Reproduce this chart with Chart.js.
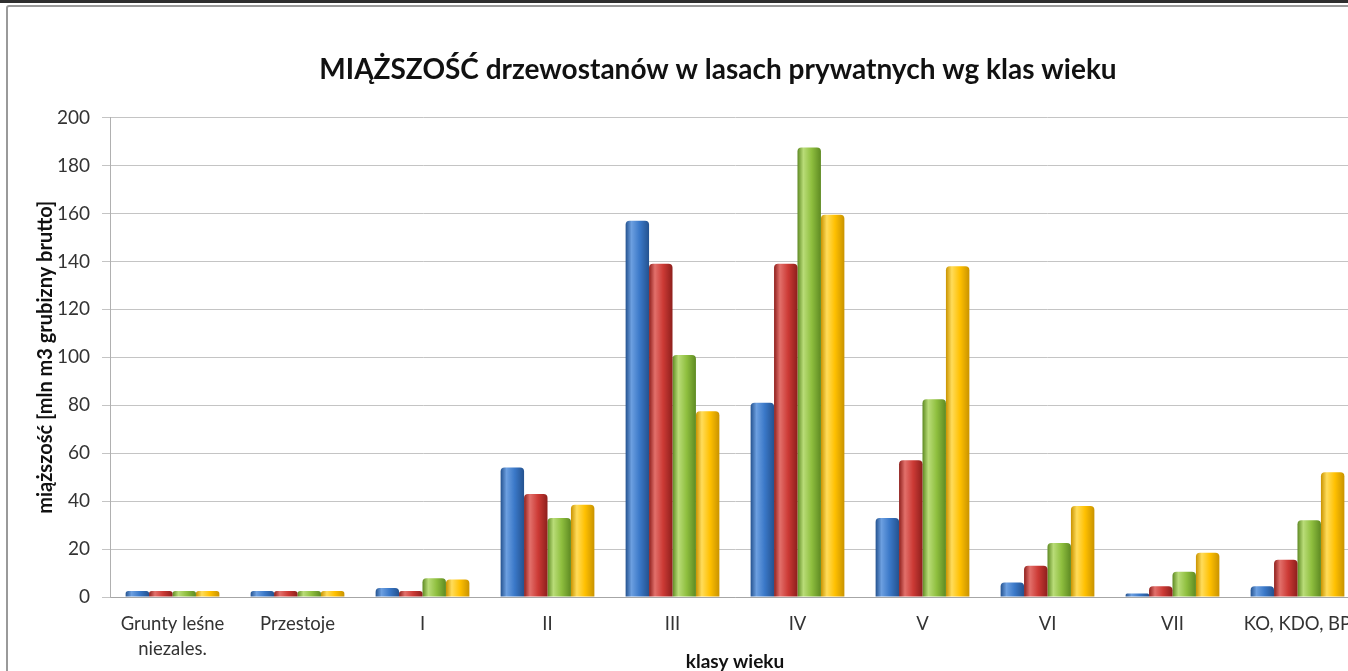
<!DOCTYPE html>
<html>
<head>
<meta charset="utf-8">
<script src="https://cdn.jsdelivr.net/npm/chart.js@4"></script>
<style>
  html, body { margin: 0; padding: 0; background: #fff; overflow: hidden; width: 1348px; height: 671px; }
  .topbar { position: absolute; left: 0; top: 0; width: 1348px; height: 3px; background: #2e2e2e; }
  .frame { position: absolute; left: 6px; top: 5px; width: 1420px; height: 700px;
           border: 2px solid #9a9a9a; border-radius: 3px; background: #fff; }
</style>
</head>
<body>
<div class="topbar"></div>
<div class="frame"><canvas id="chart" width="1420" height="700"></canvas></div>
<script>
// klasy wieku
var categories = [['Grunty leśne', 'niezales.'], 'Przestoje', 'I', 'II', 'III', 'IV', 'V', 'VI', 'VII', 'KO, KDO, BP'];
var yTicks = [0, 20, 40, 60, 80, 100, 120, 140, 160, 180, 200];

// mln m3
var seria1 = [2.5, 2.5, 3.8, 54, 157, 81, 33, 6, 1.5, 4.5];
var seria2 = [2.5, 2.5, 2.5, 43, 139, 139, 57, 13, 4.5, 15.5];
var seria3 = [2.5, 2.5, 7.8, 33, 101, 187.5, 82.5, 22.5, 10.5, 32];
var seria4 = [2.5, 2.5, 7.3, 38.5, 77.5, 159.5, 138, 38, 18.5, 52];

var colors = [
  { dark: '#24528f', base: '#3a78c8', light: '#6c9fe0' },
  { dark: '#8e1f1c', base: '#cc3a35', light: '#e2706b' },
  { dark: '#5e8a22', base: '#8fbf3f', light: '#b9dc78' },
  { dark: '#c99300', base: '#ffc000', light: '#ffdc5a' }
];

// cylindryczny efekt słupków
var cylinder = {
  id: 'cylinder',
  beforeDatasetsDraw: function(chart) {
    var ctx = chart.ctx;
    chart.data.datasets.forEach(function(ds, di) {
      var c = colors[di];
      chart.getDatasetMeta(di).data.forEach(function(bar) {
        var l = bar.x - bar.width / 2;
        var g = ctx.createLinearGradient(l, 0, l + bar.width, 0);
        g.addColorStop(0, c.dark);
        g.addColorStop(0.25, c.light);
        g.addColorStop(0.6, c.base);
        g.addColorStop(1, c.dark);
        bar.options = Object.assign({}, bar.options, { backgroundColor: g });
      });
    });
  }
};

var fontFam = 'Lato, "Open Sans", sans-serif';

function mk(label, data, i) {
  return {
    label: label,
    data: data,
    backgroundColor: colors[i].base,
    borderWidth: 0,
    borderRadius: { topLeft: 4, topRight: 4 },
    borderSkipped: 'bottom',
    categoryPercentage: 0.75,
    barPercentage: 1.0
  };
}

new Chart(document.getElementById('chart'), {
  type: 'bar',
  data: {
    labels: categories,
    datasets: [
      mk('seria 1', seria1, 0),
      mk('seria 2', seria2, 1),
      mk('seria 3', seria3, 2),
      mk('seria 4', seria4, 3)
    ]
  },
  plugins: [cylinder],
  options: {
    responsive: false,
    animation: false,
    layout: { padding: 0 },
    plugins: {
      legend: { display: false },
      tooltip: { enabled: false },
      title: {
        display: true,
        text: 'MIĄŻSZOŚĆ drzewostanów w lasach prywatnych wg klas wieku',
        color: '#111',
        font: { family: fontFam, size: 28, weight: 'bold' },
        padding: { top: 46, bottom: 31 }
      }
    },
    scales: {
      x: {
        afterFit: function(s) { s.height = 110; },
        grid: { display: false, drawTicks: false },
        border: { color: '#a6a6a6', width: 1 },
        ticks: { color: '#333', font: { family: fontFam, size: 18.5, lineHeight: 1.35 }, padding: 14.5, maxRotation: 0, autoSkip: false },
        title: {
          display: true,
          text: 'klasy wieku',
          color: '#111',
          font: { family: fontFam, size: 19, weight: 'bold' },
          padding: { top: 0, bottom: 33.6 }
        }
      },
      y: {
        min: 0,
        max: 200,
        afterFit: function(s) { s.width = 102; },
        afterBuildTicks: function(s) { s.ticks = yTicks.map(function(v) { return { value: v }; }); },
        grid: { color: '#c4c4c4', lineWidth: 1, tickLength: 8 },
        border: { color: '#b0b0b0', width: 1 },
        ticks: { color: '#333', font: { family: fontFam, size: 19 }, padding: 12 },
        title: {
          display: true,
          text: 'miąższość [mln m3 grubizny brutto]',
          color: '#111',
          font: { family: fontFam, size: 20, weight: 'bold' },
          padding: { top: 26, bottom: 0 }
        }
      },
      // puste miejsce po prawej (obcięta legenda)
      yRight: {
        position: 'right',
        min: 0,
        max: 200,
        afterFit: function(s) { s.width = 68; },
        grid: { display: false },
        border: { display: false },
        ticks: { display: false }
      }
    }
  }
});
</script>
</body>
</html>
